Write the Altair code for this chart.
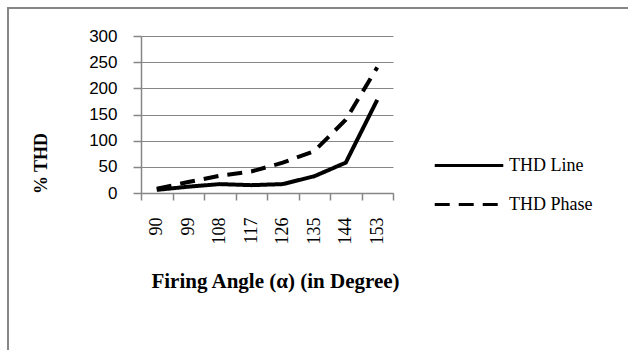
import altair as alt
import pandas as pd

angles = [90, 99, 108, 117, 126, 135, 144, 153]
thd_line = [6, 12, 17, 15, 17, 32, 58, 178]
thd_phase = [8, 21, 33, 41, 58, 80, 140, 240]
series_names = ["THD Line", "THD Phase"]
y_ticks = [0, 50, 100, 150, 200, 250, 300]

rows = []
for a, v in zip(angles, thd_line):
    rows.append({"angle": a, "value": v, "series": series_names[0]})
for a, v in zip(angles, thd_phase):
    rows.append({"angle": a, "value": v, "series": series_names[1]})
df = pd.DataFrame(rows)

GRAY = "#868686"

frame = alt.Chart(pd.DataFrame({"k": [0]})).mark_rect(
    fill=None, stroke=GRAY, strokeWidth=2
).encode(
    x=alt.value(-133), x2=alt.value(520), y=alt.value(-28), y2=alt.value(330)
)

lines = alt.Chart(df).mark_line(strokeWidth=4, color="black", strokeCap="butt").encode(
    x=alt.X(
        "angle:O",
        scale=alt.Scale(type="band", paddingInner=0, paddingOuter=0),
        bandPosition=0.5,
        axis=alt.Axis(
            title="Firing Angle (\u03b1) (in Degree)",
            titleFont="Liberation Serif", titleFontSize=21, titleFontWeight="bold",
            titleColor="black", titleX=134, titleY=94, titleAlign="center",
            titleBaseline="alphabetic",
            labelAngle=270, labelAlign="right", labelBaseline="middle",
            labelFont="Liberation Serif", labelFontSize=18, labelColor="black",
            labelPadding=17, tickSize=7, tickColor=GRAY, tickWidth=1.5,
            tickBand="extent", domainColor=GRAY, domainWidth=1.5, grid=False,
        ),
    ),
    y=alt.Y(
        "value:Q",
        scale=alt.Scale(domain=[0, 300], nice=False),
        axis=alt.Axis(
            values=y_ticks, title="% THD",
            titleFont="Liberation Serif", titleFontSize=18, titleFontWeight="bold",
            titleColor="black", titleAngle=270, titleX=-100, titleY=127,
            titleAlign="center", titleBaseline="middle",
            labelFont="Liberation Sans", labelFontSize=17, labelColor="black",
            labelPadding=16, tickSize=8, tickColor=GRAY, tickWidth=1.5,
            domainColor=GRAY, domainWidth=1.5,
            grid=True, gridColor=GRAY, gridWidth=1,
        ),
    ),
    strokeDash=alt.StrokeDash(
        "series:N",
        scale=alt.Scale(domain=series_names, range=[[1, 0], [15, 9]]),
        legend=alt.Legend(
            title=None, orient="none", legendX=292, legendY=111,
            symbolType="stroke", symbolSize=4700, symbolStrokeWidth=3,
            symbolStrokeColor="black",
            labelFont="Liberation Serif", labelFontSize=18, labelColor="black",
            labelOffset=4, rowPadding=2, clipHeight=37,
        ),
    ),
)

chart = alt.layer(frame, lines).properties(
    width=252, height=157,
    autosize=alt.AutoSizeParams(type="none"),
    padding={"left": 141, "top": 36, "right": 235, "bottom": 157},
).configure_view(stroke=None)

chart.save("out.html", embed_options={"renderer": "svg", "actions": False})
